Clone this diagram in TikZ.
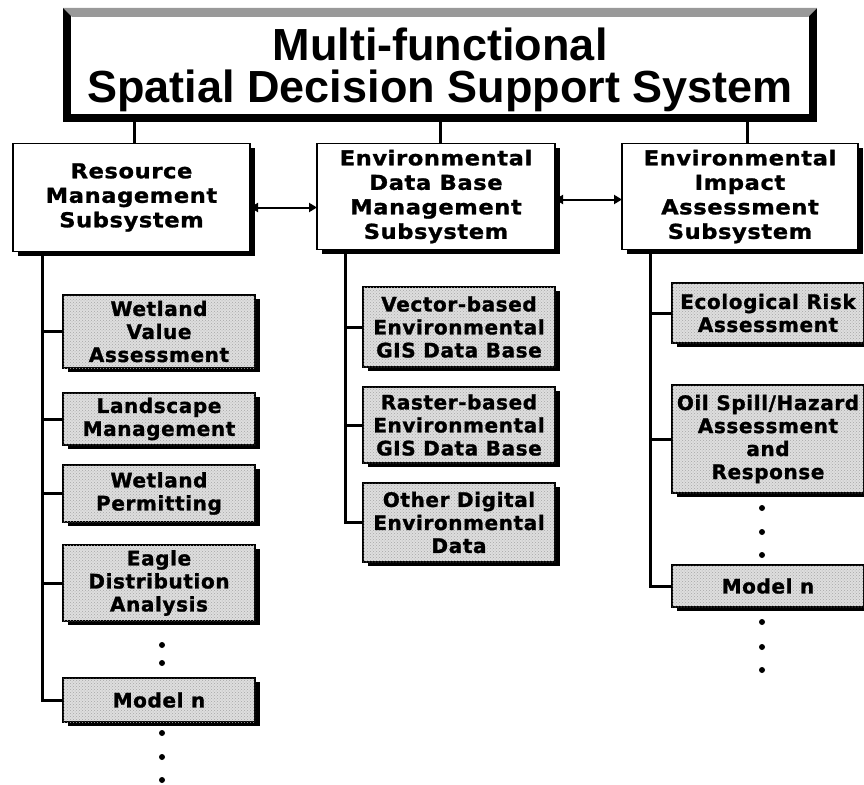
\documentclass[tikz,border=0pt]{standalone}
\usepackage{fontspec}
\setmainfont{DejaVu Sans}
\newfontfamily\titlefont{Liberation Sans}
\newfontfamily\subfont[FakeStretch=1.1, FakeBold=1.3, LetterSpace=3]{DejaVu Sans}
\newfontfamily\childfont[FakeBold=1.3, LetterSpace=3]{DejaVu Sans}
\usetikzlibrary{shadows,patterns,arrows.meta}
\begin{document}
\begin{tikzpicture}[x=1pt,y=-1pt,
  every node/.style={inner sep=0pt, outer sep=0pt},
  topbox/.style={draw, line width=8pt, fill=white,
    minimum width=746pt, minimum height=106pt},
  titletext/.style={align=center, font=\titlefont\bfseries\fontsize{45}{42}\selectfont},
  subbox/.style={draw, line width=1.5pt, fill=white, align=center,
    font=\subfont\bfseries\fontsize{20.5}{24.5}\selectfont,
    general shadow={fill=black, shadow xshift=4.5pt, shadow yshift=-4pt}},
  childbox/.style={draw, line width=1.2pt, fill=black!13, align=center,
    postaction={pattern=crosshatch dots, pattern color=black!35},
    font=\childfont\bfseries\fontsize{20}{23}\selectfont,
    minimum width=192pt,
    general shadow={fill=black, shadow xshift=4.5pt, shadow yshift=-4pt}},
  conn/.style={line width=3pt},
  biarrow/.style={line width=2pt, {Triangle[length=8pt,width=9pt]}-{Triangle[length=8pt,width=9pt]}},
  dot/.style={fill=black}
]
\useasboundingbox (0,0) rectangle (864,784);
\clip (0,0) rectangle (864,784);

% top box
\node[topbox] (top) at (440,65) {};
\fill[black!40] (63,8) -- (817,8) -- (808,17) -- (72,17) -- cycle;
\node[titletext] (title) at (440,70) {Multi-functional\\Spatial Decision Support System};

% subsystems
\node[subbox, minimum width=237pt, minimum height=108pt] (res) at (131.5,197.5) {Resource\\Management\\Subsystem};
\node[subbox, minimum width=238pt, minimum height=106pt] (db) at (436,196.5) {Environmental\\Data Base\\Management\\Subsystem};
\node[subbox, minimum width=236pt, minimum height=106pt] (eia) at (740,196.5) {Environmental\\Impact\\Assessment\\Subsystem};

\draw[conn] ([xshift=3pt]res.north) -- ([xshift=3pt]res.north |- top.south);
\draw[conn] ([xshift=4pt]db.north) -- ([xshift=4pt]db.north |- top.south);
\draw[conn] ([xshift=7pt]eia.north) -- ([xshift=7pt]eia.north |- top.south);

\draw[biarrow] ([yshift=-10pt]res.east) -- ([yshift=-10pt]res.east -| db.west);
\draw[biarrow] ([yshift=-3pt]db.east) -- ([yshift=-3pt]db.east -| eia.west);

% left children
\node[childbox, minimum height=73pt] (wva) at (159,331.5) {Wetland\\Value\\Assessment};
\node[childbox, minimum height=52pt] (lm) at (159,419) {Landscape\\Management};
\node[childbox, minimum height=57pt] (wp) at (159,493.5) {Wetland\\Permitting};
\node[childbox, minimum height=76pt] (eda) at (159,583) {Eagle\\Distribution\\Analysis};
\node[childbox, minimum height=44pt] (mn1) at (159,700) {Model n};

\coordinate (s1) at (42,0);
\draw[conn] (res.south -| s1) |- (mn1.west);
\foreach \n in {wva,lm,wp,eda} \draw[conn] (\n.west) -- (\n.west -| s1);

\foreach \y in {645,663,733,757,780} \fill[dot] (162,\y) circle (3pt);

% middle children
\node[childbox, minimum height=80pt] (vec) at (459,327) {Vector-based\\Environmental\\GIS Data Base};
\node[childbox, minimum height=76pt] (ras) at (459,425) {Raster-based\\Environmental\\GIS Data Base};
\node[childbox, minimum height=79pt] (oth) at (459,522.5) {Other Digital\\Environmental\\Data};

\coordinate (s2) at (345,0);
\draw[conn] (db.south -| s2) |- (oth.west);
\foreach \n in {vec,ras} \draw[conn] (\n.west) -- (\n.west -| s2);

% right children
\node[childbox, minimum height=60pt] (eco) at (768,313) {Ecological Risk\\Assessment};
\node[childbox, minimum height=108pt] (oil) at (768,439) {Oil Spill/Hazard\\Assessment\\and\\Response};
\node[childbox, minimum height=42pt] (mn2) at (768,586) {Model n};

\coordinate (s3) at (650,0);
\draw[conn] (eia.south -| s3) |- (mn2.west);
\foreach \n in {eco,oil} \draw[conn] (\n.west) -- (\n.west -| s3);

\foreach \y in {508,532,555,622,647,670} \fill[dot] (762,\y) circle (3pt);
\end{tikzpicture}
\end{document}
